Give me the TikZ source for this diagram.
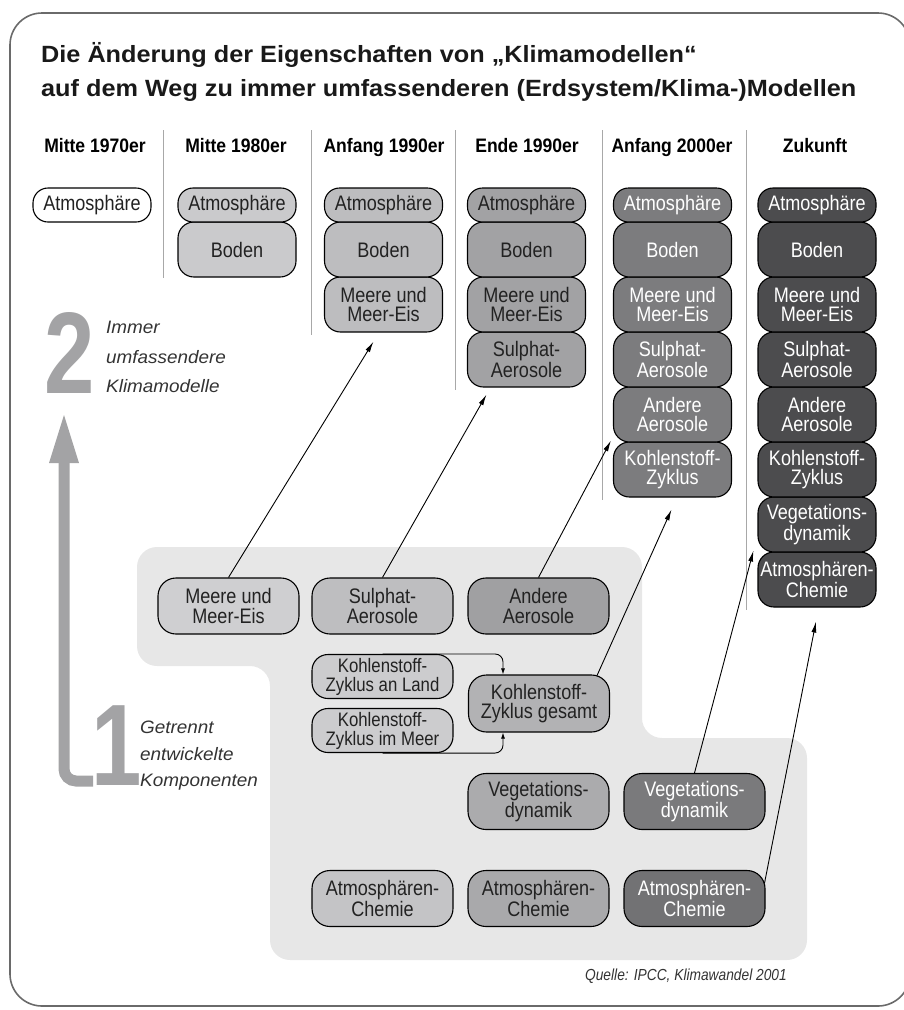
\documentclass[tikz,border=0pt]{standalone}
\usepackage{fontspec}
\setmainfont{Liberation Sans}
\newfontfamily\boxfont[FakeStretch=0.86]{Liberation Sans}
\newfontfamily\hdfont[FakeStretch=0.9]{Liberation Sans}
\newfontfamily\titfont[FakeStretch=1.075]{Liberation Sans}
\newfontfamily\digfont[FakeStretch=0.78]{Liberation Sans}
\newfontfamily\labfont[FakeStretch=1.05]{Liberation Sans}
\newfontfamily\srcfont[FakeStretch=0.86]{Liberation Sans}
\usetikzlibrary{arrows.meta,calc}
\definecolor{framec}{HTML}{6A6A6A}
\definecolor{regionc}{HTML}{E7E7E7}
\definecolor{fa}{HTML}{CACACC}
\definecolor{fb}{HTML}{BDBDBF}
\definecolor{fc}{HTML}{A2A2A4}
\definecolor{fd}{HTML}{7C7C7E}
\definecolor{fe}{HTML}{4C4C4E}
\definecolor{sepc}{HTML}{A8A8A8}
\definecolor{digc}{HTML}{A3A3A5}
\definecolor{labc}{HTML}{333333}
\definecolor{txtc}{HTML}{222222}
\definecolor{bma}{HTML}{CFCFD1}
\definecolor{bsa}{HTML}{BEBEC0}
\definecolor{boa}{HTML}{A0A0A2}
\definecolor{kla}{HTML}{CCCCCE}
\definecolor{kga}{HTML}{B2B2B4}
\definecolor{v1a}{HTML}{ABABAD}
\definecolor{v2a}{HTML}{7A7A7C}
\definecolor{c1a}{HTML}{C4C4C6}
\definecolor{c2a}{HTML}{A9A9AB}
\definecolor{c3a}{HTML}{727274}
\begin{document}
\begin{tikzpicture}[x=1pt,y=-1pt,
  cbox/.style={draw=black, line width=1.1pt, rounded corners=16pt, minimum width=118pt,
     minimum height=55pt, inner sep=0pt, align=center, text=txtc,
     font=\boxfont\fontsize{21}{19.5}\selectfont},
  atm/.style={cbox, minimum height=34pt, rounded corners=15pt},
  wbox/.style={cbox, minimum width=141pt, minimum height=56pt, rounded corners=18pt},
  sbox/.style={cbox, minimum width=141pt, minimum height=44pt, rounded corners=16pt,
     font=\boxfont\fontsize{19.5}{19}\selectfont},
  wt/.style={text=white},
  hd/.style={font=\hdfont\bfseries\fontsize{19.5}{22}\selectfont, anchor=base, inner sep=0pt, text=black},
  titl/.style={font=\titfont\bfseries\fontsize{23.5}{26}\selectfont, anchor=base west, inner sep=0pt, text=black!90},
  lab/.style={font=\labfont\itshape\fontsize{18}{20}\selectfont, anchor=base west, inner sep=0pt, text=labc},
  dig/.style={font=\digfont\bfseries\fontsize{116}{116}\selectfont, anchor=base west, inner sep=0pt, text=digc},
  sepl/.style={draw=sepc, line width=0.8pt},
  arr/.style={-{Latex[length=11pt,width=5pt]}, line width=0.9pt},
  arrs/.style={-{Latex[length=6pt,width=4pt]}, line width=0.9pt, rounded corners=8pt}
]
\useasboundingbox (0,0) rectangle (903,1010);
% frame
\draw[framec, line width=1.6pt, rounded corners=32pt] (10,13) rectangle (910,1006);
% title
\node[titl] (t1) at (41,62.5) {Die Änderung der Eigenschaften von „Klimamodellen“};
\node[titl] (t2) at (41,96) {auf dem Weg zu immer umfassenderen (Erdsystem/Klima-)Modellen};
% headers
\node[hd] (h1) at (95,152) {Mitte 1970er};
\node[hd] (h2) at (236,152) {Mitte 1980er};
\node[hd] (h3) at (384,152) {Anfang 1990er};
\node[hd] (h4) at (527,152) {Ende 1990er};
\node[hd] (h5) at (672,152) {Anfang 2000er};
\node[hd] (h6) at (815,152) {Zukunft};
% separators
\draw[sepl] (163,130) -- (163,278);
\draw[sepl] (311,130) -- (311,335);
\draw[sepl] (455,130) -- (455,390);
\draw[sepl] (602,130) -- (602,500);
\draw[sepl] (746,130) -- (746,610);
% gray region
\fill[regionc, rounded corners=20pt] (137,547) -- (642,547) -- (642,738) -- (807,738) -- (807,960) -- (270,960) -- (270,666) -- (137,666) -- cycle;
% column 1
\node[atm, fill=white] (a1) at (92,205) {Atmosphäre};
% column 2
\node[cbox, fill=fa] (b2) at (237,249.5) {Boden};
\node[atm, fill=fa] (a2) at (237,205) {Atmosphäre};
% column 3
\node[cbox, fill=fb] (m3) at (383.5,304.5) {Meere und\\Meer-Eis};
\node[cbox, fill=fb] (b3) at (383.5,249.5) {Boden};
\node[atm, fill=fb] (a3) at (383.5,205) {Atmosphäre};
% column 4
\node[cbox, fill=fc] (s4) at (526.5,359.5) {Sulphat-\\Aerosole};
\node[cbox, fill=fc] (m4) at (526.5,304.5) {Meere und\\Meer-Eis};
\node[cbox, fill=fc] (b4) at (526.5,249.5) {Boden};
\node[atm, fill=fc] (a4) at (526.5,205) {Atmosphäre};
% column 5
\node[cbox, fill=fd, wt] (k5) at (672.5,469.5) {Kohlenstoff-\\Zyklus};
\node[cbox, fill=fd, wt] (o5) at (672.5,414.5) {Andere\\Aerosole};
\node[cbox, fill=fd, wt] (s5) at (672.5,359.5) {Sulphat-\\Aerosole};
\node[cbox, fill=fd, wt] (m5) at (672.5,304.5) {Meere und\\Meer-Eis};
\node[cbox, fill=fd, wt] (b5) at (672.5,249.5) {Boden};
\node[atm, fill=fd, wt] (a5) at (672.5,205) {Atmosphäre};
% column 6
\node[cbox, fill=fe, wt] (c6) at (817,579.5) {Atmosphären-\\Chemie};
\node[cbox, fill=fe, wt] (v6) at (817,524.5) {Vegetations-\\dynamik};
\node[cbox, fill=fe, wt] (k6) at (817,469.5) {Kohlenstoff-\\Zyklus};
\node[cbox, fill=fe, wt] (o6) at (817,414.5) {Andere\\Aerosole};
\node[cbox, fill=fe, wt] (s6) at (817,359.5) {Sulphat-\\Aerosole};
\node[cbox, fill=fe, wt] (m6) at (817,304.5) {Meere und\\Meer-Eis};
\node[cbox, fill=fe, wt] (b6) at (817,249.5) {Boden};
\node[atm, fill=fe, wt] (a6) at (817,205) {Atmosphäre};
% bottom components
\node[wbox, fill=bma] (bm) at (228.5,606) {Meere und\\Meer-Eis};
\node[wbox, fill=bsa] (bs) at (382.5,606) {Sulphat-\\Aerosole};
\node[wbox, fill=boa] (bo) at (538.5,606) {Andere\\Aerosole};
\node[sbox, fill=kla] (kl) at (382.5,676.5) {Kohlenstoff-\\Zyklus an Land};
\node[sbox, fill=kla] (km) at (382.5,730.5) {Kohlenstoff-\\Zyklus im Meer};
\node[wbox, fill=kga, minimum height=57pt] (kg) at (539,703.5) {Kohlenstoff-\\Zyklus gesamt};
\node[wbox, fill=v1a] (v1) at (538.5,801.5) {Vegetations-\\dynamik};
\node[wbox, fill=v2a, wt] (v2) at (694.5,801.5) {Vegetations-\\dynamik};
\node[wbox, fill=c1a] (c1) at (382.5,898.5) {Atmosphären-\\Chemie};
\node[wbox, fill=c2a] (c2) at (538.5,898.5) {Atmosphären-\\Chemie};
\node[wbox, fill=c3a, wt] (c3) at (694.5,898.5) {Atmosphären-\\Chemie};
% carbon merge connectors
\draw[arrs] (kl.north) -| ($(kg.north)+(-36,0)$);
\draw[arrs] (km.south) -| ($(kg.south)+(-36,0)$);
% arrows to the columns
\draw[arr] (bm.north) -- ($(m3.south)+(-10,9)$);
\draw[arr] (bs.north) -- ($(s4.south)+(-40,7)$);
\draw[arr] (bo.north) -- ($(o5.south west)+(-2,-2)$);
\draw[arr] ($(kg.north east)+(-13,1)$) -- ($(k5.south)+(-1,12)$);
\draw[arr] (v2.north) -- ($(v6.south west)+(-4,-2)$);
\draw[arr] ($(c3.north east)+(-1,13)$) -- ($(c6.south)+(-1,14)$);
% left: stages
\draw[digc, line width=11pt, rounded corners=12pt] (93,781) -- (64,781) -- (64,460);
\fill[digc] (49,463) -- (79,463) -- (64,415) -- cycle;
\node[dig] (two) at (44,393) {2};
\node[dig] (one) at (91,785) {1};
\node[lab] (l2a) at (106,333) {Immer};
\node[lab] (l2b) at (106,363) {umfassendere};
\node[lab] (l2c) at (106,392) {Klimamodelle};
\node[lab] (l1a) at (140,733) {Getrennt};
\node[lab] (l1b) at (140,760) {entwickelte};
\node[lab] (l1c) at (140,786) {Komponenten};
% source
\node[font=\srcfont\itshape\fontsize{16}{18}\selectfont, anchor=base east, inner sep=0pt, text=labc] (src) at (787,980) {Quelle: IPCC, Klimawandel 2001};
\end{tikzpicture}
\end{document}
